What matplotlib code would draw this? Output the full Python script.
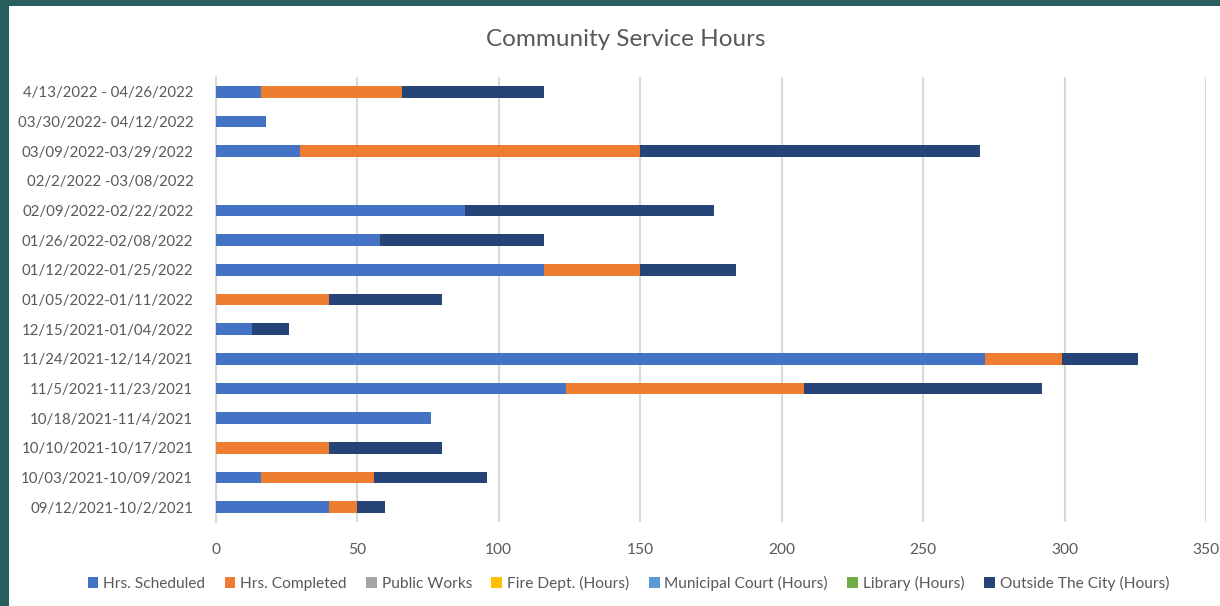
import matplotlib
matplotlib.use("Agg")
import matplotlib.pyplot as plt
import numpy as np
from matplotlib.patches import Rectangle

plt.rcParams['font.family'] = ['Lato', 'DejaVu Sans']

categories = [
    "4/13/2022 - 04/26/2022",
    "03/30/2022- 04/12/2022",
    "03/09/2022-03/29/2022",
    "02/2/2022 -03/08/2022",
    "02/09/2022-02/22/2022",
    "01/26/2022-02/08/2022",
    "01/12/2022-01/25/2022",
    "01/05/2022-01/11/2022",
    "12/15/2021-01/04/2022",
    "11/24/2021-12/14/2021",
    "11/5/2021-11/23/2021",
    "10/18/2021-11/4/2021",
    "10/10/2021-10/17/2021",
    "10/03/2021-10/09/2021",
    "09/12/2021-10/2/2021",
]

hrs_scheduled = [16, 18, 30, 0, 88, 58, 116, 0, 13, 272, 124, 76, 0, 16, 40]
hrs_completed = [50, 0, 120, 0, 0, 0, 34, 40, 0, 27, 84, 0, 40, 40, 10]
public_works = [0] * 15
fire_dept = [0] * 15
municipal_court = [0] * 15
library = [0] * 15
outside_city = [50, 0, 120, 0, 88, 58, 34, 40, 13, 27, 84, 0, 40, 40, 10]

series_names = ["Hrs. Scheduled", "Hrs. Completed", "Public Works", "Fire Dept. (Hours)",
                "Municipal Court (Hours)", "Library (Hours)", "Outside The City (Hours)"]
series_values = [hrs_scheduled, hrs_completed, public_works, fire_dept,
                 municipal_court, library, outside_city]
series_colors = ["#4472C4", "#ED7D31", "#A5A5A5", "#FFC000", "#5B9BD5", "#70AD47", "#264478"]

x_ticks = [0, 50, 100, 150, 200, 250, 300, 350]

fig = plt.figure(figsize=(12.2, 6.06), dpi=100)
fig.patch.set_facecolor("white")
# dark teal frame on top and left
fig.add_artist(Rectangle((0, 0), 1, 1, transform=fig.transFigure, facecolor="#275e5e",
                         edgecolor="none", zorder=-10))
fig.add_artist(Rectangle((9 / 1220, 0), 1, 1 - 6 / 606, transform=fig.transFigure,
                         facecolor="white", edgecolor="none", zorder=-9))

ax = fig.add_axes([215.5 / 1220, 84 / 606, (1206 - 215.5) / 1220, (529 - 84) / 606])
n = len(categories)
y = np.arange(n)[::-1]
left = np.zeros(n)
for name, vals, col in zip(series_names, series_values, series_colors):
    v = np.array(vals, dtype=float)
    ax.barh(y, v, left=left, height=0.4, color=col, label=name,
            edgecolor="none", zorder=3)
    left += v

ax.set_xlim(0, 350)
ax.set_ylim(-0.5, n - 0.5)
ax.set_yticks(y)
ax.set_yticklabels(categories)
ax.set_xticks(x_ticks)
ax.tick_params(axis="both", length=0, colors="#595959")
ax.tick_params(axis="y", pad=16, labelsize=10.8)
ax.tick_params(axis="x", pad=15, labelsize=11.2)
ax.grid(axis="x", color="#d9d9d9", linewidth=1.5, zorder=0)
for s in ["top", "right", "bottom"]:
    ax.spines[s].set_visible(False)
ax.spines["left"].set_color("#d9d9d9")
ax.spines["left"].set_linewidth(1.5)

fig.text(0.513, 1 - 40 / 606, "Community Service Hours", ha="center", va="center",
         fontsize=17.5, color="#595959")

handles, labels = ax.get_legend_handles_labels()
fig.legend(handles, labels, loc="center", bbox_to_anchor=(0.515, 23 / 606), ncol=7,
           frameon=False, fontsize=11.2, handlelength=0.7, handleheight=0.7,
           handletextpad=0.3, columnspacing=1.25, labelcolor="#595959")

fig.savefig("out.png", dpi=100, facecolor=fig.get_facecolor())
